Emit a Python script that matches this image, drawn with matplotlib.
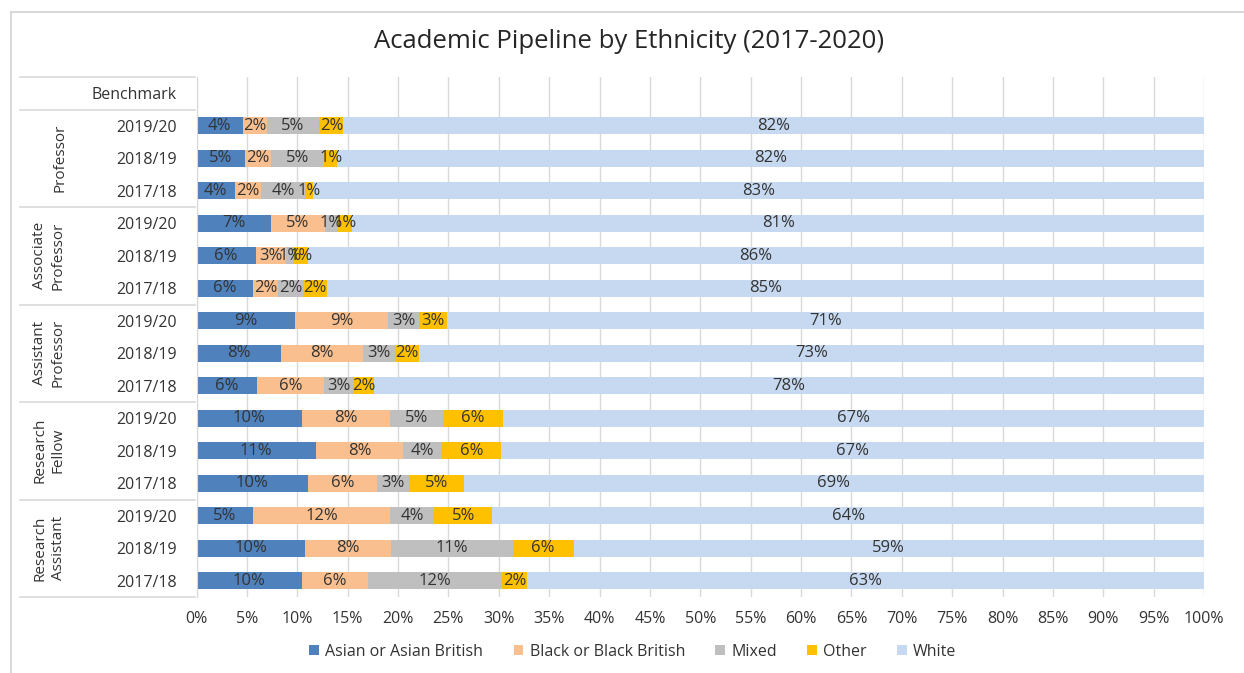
#!/usr/bin/env python3
"""Academic pipeline by ethnicity, 100% stacked horizontal bars."""
import matplotlib

matplotlib.use("Agg")
import matplotlib.pyplot as plt
from matplotlib.lines import Line2D
from matplotlib.patches import Patch
from matplotlib.transforms import blended_transform_factory

# data (rows top to bottom, Benchmark row has no bars)
groups = ["Professor", "Associate\nProfessor", "Assistant\nProfessor",
          "Research\nFellow", "Research\nAssistant"]
years = ["2019/20", "2018/19", "2017/18"]
series = ["Asian or Asian British", "Black or Black British", "Mixed", "Other", "White"]

asian = [4.4, 4.6, 3.6, 7.1, 5.7, 5.5, 9.2, 7.9, 5.7, 10.1, 11.4, 10.4, 5.1, 10.2, 9.8]
black = [2.3, 2.4, 2.4, 5.1, 2.9, 2.4, 8.8, 7.6, 6.3, 8.4, 8.3, 6.4, 12.3, 8.0, 6.2]
mixed = [5.0, 5.1, 4.1, 1.3, 0.7, 2.4, 2.9, 3.0, 2.7, 5.1, 3.7, 3.0, 4.0, 11.4, 12.4]
other = [2.3, 1.2, 0.7, 1.3, 1.4, 2.3, 2.6, 2.2, 2.0, 5.7, 5.6, 5.1, 5.2, 5.7, 2.4]
white = [82, 82, 83, 81, 86, 85, 71, 73, 78, 67, 67, 69, 64, 59, 63]

COLORS = ["#4F81BD", "#F9BF8F", "#BFBFBF", "#FFC000", "#C6D9F1"]
TEXT = "#333333"
LINE = "#D9D9D9"
FONT = ["Open Sans", "DejaVu Sans"]

plt.rcParams["font.family"] = FONT

W, H = 1244, 673
fig = plt.figure(figsize=(W / 100, H / 100), dpi=100)


def fx(px):
    return px / W


def fy(py):
    return 1 - py / H


ax = fig.add_axes([fx(196.5), fy(597), fx(1204) - fx(196.5), fy(77) - fy(597)])

row_labels = ["Benchmark"] + years * len(groups)
n_rows = len(row_labels)
ypos = list(range(1, n_rows))

values = [asian, black, mixed, other, white]
totals = [sum(v[i] for v in values) for i in range(len(asian))]
left = [0.0] * len(asian)
for vals, color in zip(values, COLORS):
    shares = [v / t * 100 for v, t in zip(vals, totals)]
    ax.barh(ypos, shares, left=left, height=0.52, color=color, zorder=2)
    for y, s, l, v in zip(ypos, shares, left, vals):
        ax.text(l + s / 2, y, f"{v:.0f}%", ha="center", va="center",
                fontsize=12, color=TEXT, zorder=3)
    left = [l + s for l, s in zip(left, shares)]

ax.set_xlim(0, 100)
ax.set_ylim(n_rows - 0.5, -0.5)
ax.set_xticks(range(0, 101, 5))
ax.set_xticklabels([f"{t}%" for t in range(0, 101, 5)])
ax.set_yticks(range(n_rows))
ax.set_yticklabels(row_labels)
ax.tick_params(axis="x", length=0, pad=10, labelsize=11.5, labelcolor=TEXT)
ax.tick_params(axis="y", length=0, pad=14, labelsize=11.5, labelcolor=TEXT)
ax.grid(True, axis="x", color=LINE, linewidth=1, zorder=0)
for side in ["top", "right", "bottom"]:
    ax.spines[side].set_visible(False)
ax.spines["left"].set_color(LINE)

# multi-level category table on the left
tr = blended_transform_factory(fig.transFigure, ax.transData)
bounds = [-0.5] + [0.5 + 3 * k for k in range(len(groups) + 1)]
for b in bounds:
    fig.add_artist(Line2D([fx(20), fx(195)], [b, b], transform=tr,
                          color=LINE, linewidth=1.2))
for k, g in enumerate(groups):
    yc = 2 + 3 * k
    x = 60 if "\n" not in g else 49
    fig.text(fx(x), yc, g, transform=tr, rotation=90, ha="center", va="center",
             fontsize=11, color=TEXT, linespacing=1.3,
             family=["Liberation Sans Narrow", "Open Sans", "DejaVu Sans"])

# chart border
fig.add_artist(Line2D([fx(11), fx(11)], [fy(12), 0], color=LINE, linewidth=1.5))
fig.add_artist(Line2D([fx(11), 1], [fy(12), fy(12)], color=LINE, linewidth=1.5))

fig.text(fx(629), fy(42), "Academic Pipeline by Ethnicity (2017-2020)",
         ha="center", va="center", fontsize=18.5, color="#262626")

handles = [Patch(facecolor=c, edgecolor="none") for c in COLORS]
fig.legend(handles, series, loc="center", bbox_to_anchor=(fx(633), fy(652)),
           ncol=5, frameon=False, fontsize=11.5, labelcolor=TEXT,
           handlelength=0.6, handleheight=0.6, handletextpad=0.4,
           columnspacing=1.9)

fig.savefig("out.png", dpi=100)
